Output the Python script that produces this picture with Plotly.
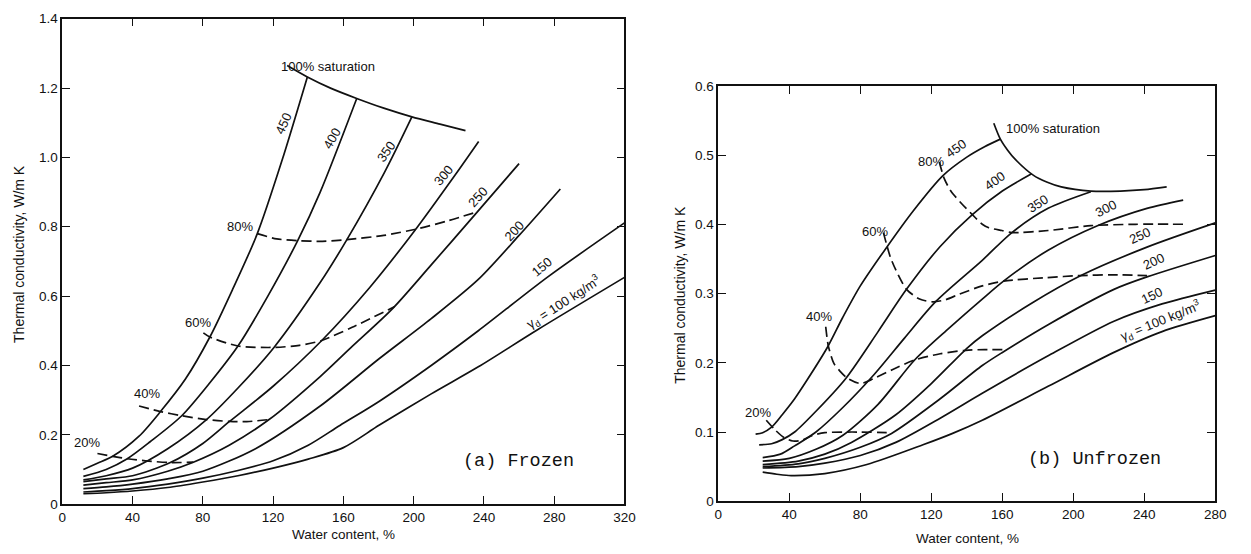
import plotly.graph_objects as go

# ---------------- (a) Frozen : curves for dry density (kg/m3) ----------------
fz_450_x = [12, 20, 28.7, 43.7, 55.9, 70, 84, 97, 111, 125, 139.5]
fz_450_y = [0.10, 0.118, 0.138, 0.196, 0.267, 0.36, 0.482, 0.62, 0.78, 0.99, 1.232]
fz_400_x = [12, 25, 37, 50, 68, 84, 100, 117, 134, 146.8, 167.6]
fz_400_y = [0.08, 0.10, 0.131, 0.18, 0.255, 0.35, 0.456, 0.60, 0.76, 0.90, 1.17]
fz_350_x = [12, 25, 40, 60, 82.1, 100, 120.5, 146.8, 162, 183.4, 199]
fz_350_y = [0.07, 0.082, 0.104, 0.16, 0.244, 0.335, 0.452, 0.639, 0.763, 0.957, 1.117]
fz_300_x = [12, 25, 40, 61.5, 80, 95.2, 120, 147.7, 175, 201.2, 223.7, 237]
fz_300_y = [0.065, 0.073, 0.082, 0.12, 0.175, 0.2385, 0.34, 0.472, 0.625, 0.793, 0.95, 1.046]
fz_250_x = [12, 25, 40, 60, 74.6, 95, 117.7, 146.8, 165, 188, 210, 234.9, 260]
fz_250_y = [0.055, 0.062, 0.07, 0.095, 0.121, 0.17, 0.244, 0.368, 0.455, 0.564, 0.69, 0.835, 0.982]
fz_200_x = [12, 25, 40, 60, 80, 110, 146.8, 180.5, 210, 236.8, 260, 283.5]
fz_200_y = [0.045, 0.05, 0.058, 0.073, 0.095, 0.16, 0.283, 0.42, 0.535, 0.648, 0.775, 0.909]
fz_150_x = [12, 25, 40, 60, 80, 100, 120, 140, 158, 180.5, 210, 236.8, 276, 320]
fz_150_y = [0.035, 0.039, 0.045, 0.058, 0.075, 0.097, 0.125, 0.17, 0.227, 0.297, 0.40, 0.50, 0.654, 0.811]
fz_100_x = [12, 25, 40, 60, 80, 100, 120, 140, 160, 180.5, 210, 236.8, 270.5, 320]
fz_100_y = [0.03, 0.033, 0.038, 0.048, 0.064, 0.082, 0.104, 0.13, 0.163, 0.228, 0.318, 0.396, 0.503, 0.654]

# saturation lines (frozen)
fz_s20_x = [20, 28.7, 37, 47.4, 61.5, 74.6]
fz_s20_y = [0.146, 0.138, 0.131, 0.125, 0.12, 0.121]
fz_s40_x = [43.7, 55.9, 68, 82.1, 95.2, 105, 117.7]
fz_s40_y = [0.283, 0.267, 0.255, 0.244, 0.2385, 0.238, 0.244]
fz_s60_x = [80.3, 84, 100, 120.5, 135, 147.7, 165, 189]
fz_s60_y = [0.494, 0.482, 0.456, 0.452, 0.458, 0.472, 0.51, 0.569]
fz_s80_x = [111, 122, 134, 148, 162, 183, 203, 220, 235.6]
fz_s80_y = [0.78, 0.765, 0.76, 0.758, 0.763, 0.775, 0.795, 0.818, 0.842]
fz_s100_x = [128, 139.5, 153, 167.6, 183, 199, 215, 229.5]
fz_s100_y = [1.265, 1.232, 1.199, 1.17, 1.142, 1.117, 1.096, 1.077]

# ---------------- (b) Unfrozen ----------------
uf_450_x = [21, 25, 30, 36, 43, 50, 61.4, 70, 80, 94.9, 110, 126.4, 140, 150, 158.9]
uf_450_y = [0.097, 0.099, 0.107, 0.125, 0.148, 0.175, 0.222, 0.265, 0.311, 0.367, 0.42, 0.47, 0.497, 0.512, 0.523]
uf_400_x = [23, 30, 36, 43, 55, 71.7, 90, 106, 125, 143.1, 160, 176.5]
uf_400_y = [0.0815, 0.083, 0.089, 0.10, 0.13, 0.177, 0.245, 0.306, 0.368, 0.414, 0.448, 0.473]
uf_350_x = [25, 35, 43, 55, 70, 87.4, 105, 122.7, 148.7, 165.4, 185.8, 209.9]
uf_350_y = [0.063, 0.068, 0.08, 0.10, 0.135, 0.182, 0.236, 0.289, 0.348, 0.388, 0.423, 0.447]
uf_300_x = [25, 40, 55, 70, 90, 110.6, 130, 148.7, 160.7, 185.8, 213.6, 241.5, 261.9]
uf_300_y = [0.058, 0.062, 0.075, 0.095, 0.14, 0.204, 0.25, 0.292, 0.318, 0.3625, 0.398, 0.423, 0.435]
uf_250_x = [25, 45, 60, 75, 100, 120, 140.5, 148.7, 176.5, 204.3, 241.5, 280]
uf_250_y = [0.053, 0.058, 0.068, 0.085, 0.125, 0.17, 0.222, 0.239, 0.286, 0.326, 0.367, 0.402]
uf_200_x = [25, 45, 60, 80, 97.6, 125, 148.7, 160.7, 185.8, 222.9, 241.5, 280]
uf_200_y = [0.05, 0.054, 0.062, 0.078, 0.098, 0.148, 0.196, 0.216, 0.255, 0.306, 0.324, 0.355]
uf_150_x = [25, 45, 60, 80, 100, 125, 148.7, 185.8, 222.9, 250, 280]
uf_150_y = [0.048, 0.05, 0.055, 0.066, 0.085, 0.12, 0.156, 0.21, 0.26, 0.285, 0.305]
uf_100_x = [25, 33, 41, 60, 83.7, 115.3, 132, 148.7, 185.8, 222.9, 250, 280]
uf_100_y = [0.042, 0.039, 0.037, 0.04, 0.053, 0.0815, 0.098, 0.117, 0.166, 0.215, 0.245, 0.268]

uf_s20_x = [27, 32, 37, 42, 47, 53, 60, 75, 97.6]
uf_s20_y = [0.117, 0.103, 0.092, 0.087, 0.088, 0.095, 0.099, 0.10, 0.099]
uf_s40_x = [60.5, 62, 65.1, 68.5, 72.6, 80, 87.4, 98, 110.6, 125, 139.4, 150, 160.7]
uf_s40_y = [0.252, 0.224, 0.199, 0.188, 0.178, 0.170, 0.177, 0.19, 0.204, 0.213, 0.218, 0.219, 0.219]
uf_s60_x = [93, 94.9, 97, 100, 106, 113.4, 120.8, 128, 135.7, 148.7, 160.7, 185, 204.3, 222, 241.5]
uf_s60_y = [0.388, 0.370, 0.352, 0.334, 0.306, 0.292, 0.288, 0.291, 0.299, 0.311, 0.318, 0.323, 0.326, 0.327, 0.326]
uf_s80_x = [124.5, 127.3, 131, 137, 143.1, 148.7, 152.4, 159.8, 165.4, 185.8, 209.9, 235, 263.7]
uf_s80_y = [0.49, 0.466, 0.448, 0.43, 0.414, 0.40, 0.395, 0.391, 0.388, 0.391, 0.398, 0.40, 0.40]
uf_s100_x = [155.2, 158.9, 163, 167.2, 177.4, 185, 193.2, 209.9, 226.6, 240, 252.6]
uf_s100_y = [0.546, 0.523, 0.507, 0.494, 0.471, 0.461, 0.454, 0.448, 0.448, 0.45, 0.454]

# tick labels
fz_xticks = [0, 40, 80, 120, 160, 200, 240, 280, 320]
fz_yticks = [0, 0.2, 0.4, 0.6, 0.8, 1.0, 1.2, 1.4]
fz_ytext = ["0", "0.2", "0.4", "0.6", "0.8", "1.0", "1.2", "1.4"]
uf_xticks = [0, 40, 80, 120, 160, 200, 240, 280]
uf_yticks = [0, 0.1, 0.2, 0.3, 0.4, 0.5, 0.6]
uf_ytext = ["0", "0.1", "0.2", "0.3", "0.4", "0.5", "0.6"]

INK = "#111111"
fig = go.Figure()

def solid(x, y, xa, ya):
    fig.add_trace(go.Scatter(x=x, y=y, xaxis=xa, yaxis=ya, mode="lines",
                             line=dict(color=INK, width=1.7, shape="spline", smoothing=0.8),
                             hoverinfo="skip", showlegend=False))

def dashed(x, y, xa, ya):
    fig.add_trace(go.Scatter(x=x, y=y, xaxis=xa, yaxis=ya, mode="lines",
                             line=dict(color=INK, width=1.7, dash="10px,5px", shape="spline", smoothing=0.7),
                             hoverinfo="skip", showlegend=False))

for x, y in [(fz_450_x, fz_450_y), (fz_400_x, fz_400_y), (fz_350_x, fz_350_y), (fz_300_x, fz_300_y),
             (fz_250_x, fz_250_y), (fz_200_x, fz_200_y), (fz_150_x, fz_150_y), (fz_100_x, fz_100_y),
             (fz_s100_x, fz_s100_y)]:
    solid(x, y, "x", "y")
for x, y in [(fz_s20_x, fz_s20_y), (fz_s40_x, fz_s40_y), (fz_s60_x, fz_s60_y), (fz_s80_x, fz_s80_y)]:
    dashed(x, y, "x", "y")

for x, y in [(uf_450_x, uf_450_y), (uf_400_x, uf_400_y), (uf_350_x, uf_350_y), (uf_300_x, uf_300_y),
             (uf_250_x, uf_250_y), (uf_200_x, uf_200_y), (uf_150_x, uf_150_y), (uf_100_x, uf_100_y),
             (uf_s100_x, uf_s100_y)]:
    solid(x, y, "x2", "y2")
for x, y in [(uf_s20_x, uf_s20_y), (uf_s40_x, uf_s40_y), (uf_s60_x, uf_s60_y), (uf_s80_x, uf_s80_y)]:
    dashed(x, y, "x2", "y2")

W, H = 1251, 554
def px_x(p):
    return p / W
def px_y(p):
    return (H - p) / H

axis_common = dict(showline=True, linecolor=INK, linewidth=1.6, mirror="ticks", ticks="inside",
                   ticklen=8, tickwidth=1.4, tickcolor=INK, showgrid=False, zeroline=False,
                   tickfont=dict(family="Liberation Sans, Arial", size=13.5, color=INK))

fig.update_layout(
    width=W, height=H, margin=dict(l=0, r=0, t=0, b=0),
    paper_bgcolor="white", plot_bgcolor="white", showlegend=False,
    xaxis=dict(domain=[px_x(59), px_x(628)], range=[0, 320], tickvals=fz_xticks, anchor="y", **axis_common),
    yaxis=dict(domain=[px_y(511), px_y(12)], range=[0, 1.4], tickvals=fz_yticks, ticktext=fz_ytext, anchor="x", **axis_common),
    xaxis2=dict(domain=[px_x(723), px_x(1226)], range=[0, 280], tickvals=uf_xticks, anchor="y2", **axis_common),
    yaxis2=dict(domain=[px_y(508), px_y(81)], range=[0, 0.6], tickvals=uf_yticks, ticktext=uf_ytext, anchor="x2", **axis_common),
)

LF = dict(family="Liberation Sans, Arial", size=13, color=INK)
MONO = dict(family="Liberation Mono, Courier New, monospace", size=18.5, color=INK)

ann = []
def lab(text, x, y, xr, yr, angle=0, font=LF, xanchor="center"):
    ann.append(dict(text=text, x=x, y=y, xref=xr, yref=yr, showarrow=False, textangle=angle,
                    font=font, xanchor=xanchor, yanchor="middle"))

GAMMA = "γ<sub>d</sub> = 100 kg/m<sup>3</sup>"
# frozen labels
lab("100% saturation", 151, 1.262, "x", "y")
lab("80%", 101, 0.80, "x", "y")
lab("60%", 77, 0.525, "x", "y")
lab("40%", 48, 0.32, "x", "y")
lab("20%", 14, 0.177, "x", "y")
lab("450", 126, 1.097, "x", "y", -65)
lab("400", 153.4, 1.055, "x", "y", -60)
lab("350", 184.3, 1.018, "x", "y", -55)
lab("300", 217, 0.947, "x", "y", -50)
lab("250", 236.8, 0.887, "x", "y", -48)
lab("200", 257.4, 0.79, "x", "y", -47)
lab("150", 273.3, 0.685, "x", "y", -40)
lab(GAMMA, 285.5, 0.583, "x", "y", -33)
lab("(a) Frozen", 259.8, 0.124, "x", "y", 0, MONO)

# unfrozen labels
lab("100% saturation", 160.7, 0.538, "x2", "y2", 0, LF, "left")
lab("80%", 119.8, 0.491, "x2", "y2")
lab("60%", 88.4, 0.389, "x2", "y2")
lab("40%", 56.8, 0.267, "x2", "y2")
lab("20%", 22.4, 0.128, "x2", "y2")
lab("450", 133.8, 0.51, "x2", "y2", -35)
lab("400", 156, 0.463, "x2", "y2", -35)
lab("350", 180.2, 0.43, "x2", "y2", -33)
lab("300", 218.3, 0.423, "x2", "y2", -27)
lab("250", 237.7, 0.384, "x2", "y2", -25)
lab("200", 245.2, 0.346, "x2", "y2", -25)
lab("150", 244.3, 0.297, "x2", "y2", -25)
lab(GAMMA, 248.9, 0.26, "x2", "y2", -22)
lab("(b) Unfrozen", 212.2, 0.06, "x2", "y2", 0, MONO)

# axis titles
TF = dict(family="Liberation Sans, Arial", size=13.5, color=INK)
TY = dict(family="Liberation Sans, Arial", size=14, color=INK)
lab("Water content, %", px_x(343.5), px_y(542), "paper", "paper", 0, TF)
lab("Water content, %", px_x(975), px_y(546), "paper", "paper", 0, TF)
lab("Thermal conductivity, W/m K", px_x(15), px_y(254), "paper", "paper", -90, TY)
lab("Thermal conductivity, W/m K", px_x(684), px_y(296), "paper", "paper", -90, TY)

fig.update_layout(annotations=ann)
fig.write_html("out.html")
